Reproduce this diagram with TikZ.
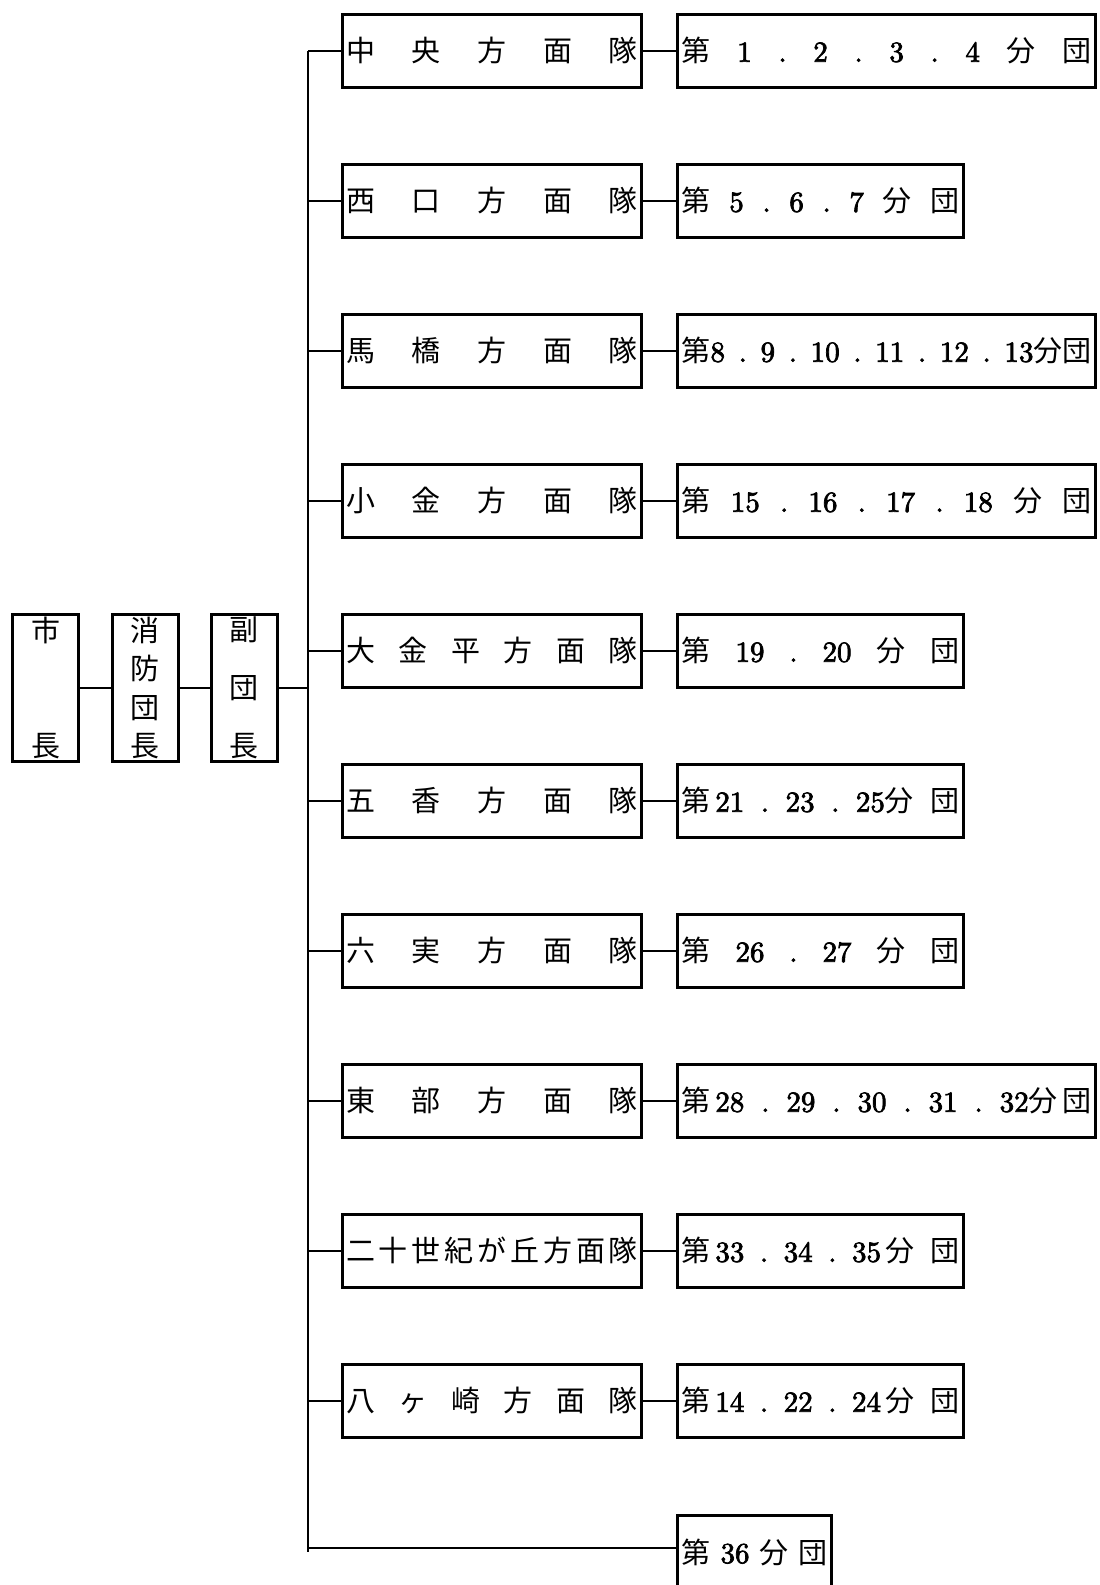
\documentclass[tikz,border=0pt]{standalone}
\usepackage{fontspec}
\newfontfamily\jpfont{Noto Sans CJK JP}
\newfontfamily\numfont{lmroman10-regular}[Extension=.otf, FakeBold=2.5]
\usetikzlibrary{positioning}
\newcommand{\jp}[1]{{\jpfont #1}}
\newcommand{\spreadline}[2]{\makebox[#1][s]{#2}}
\newcommand{\spreadcol}[1]{\parbox[c][70pt][s]{20pt}{\centering #1}}
\tikzstyle{chief} = [rectangle, minimum width=33pt, minimum height=73.5pt, inner sep=0pt, draw=black, line width=1.5pt, font=\jpfont\fontsize{14.5}{17}\selectfont]
\tikzstyle{branch} = [rectangle, minimum width=149.5pt, minimum height=36.5pt, inner sep=0pt, draw=black, line width=1.5pt, font=\jpfont\fontsize{14.5}{17}\selectfont]
\tikzstyle{unit} = [rectangle, minimum height=36.5pt, inner xsep=2pt, inner ysep=0pt, draw=black, line width=1.5pt, font=\numfont\fontsize{14.5}{17}\selectfont]
\tikzstyle{headlink} = [line width=1.3pt]
\tikzstyle{link} = [line width=0.8pt]

\begin{document}
\begin{tikzpicture}[x=0.5pt, y=0.5pt, node distance=75pt]
\useasboundingbox (0,0) rectangle (1099,-1585);

% left column
\node at (45.5,-688) (chief1) [chief] {\spreadcol{市\par\vfill 長}};
\node at (145,-688) (chief2) [chief] {\spreadcol{消\par\vfill 防\par\vfill 団\par\vfill 長}};
\node at (244,-688) (chief3) [chief] {\spreadcol{副\par\vfill 団\par\vfill 長}};
\draw[headlink] (chief1) -- (chief2);
\draw[headlink] (chief2) -- (chief3);

% branches
\node at (492,-50.7) (br1) [branch] {\spreadline{146pt}{中\hfill 央\hfill 方\hfill 面\hfill 隊}};
\node (br2) [branch, below of=br1] {\spreadline{146pt}{西\hfill 口\hfill 方\hfill 面\hfill 隊}};
\node (br3) [branch, below of=br2] {\spreadline{146pt}{馬\hfill 橋\hfill 方\hfill 面\hfill 隊}};
\node (br4) [branch, below of=br3] {\spreadline{146pt}{小\hfill 金\hfill 方\hfill 面\hfill 隊}};
\node (br5) [branch, below of=br4] {\spreadline{146pt}{大\hfill 金\hfill 平\hfill 方\hfill 面\hfill 隊}};
\node (br6) [branch, below of=br5] {\spreadline{146pt}{五\hfill 香\hfill 方\hfill 面\hfill 隊}};
\node (br7) [branch, below of=br6] {\spreadline{146pt}{六\hfill 実\hfill 方\hfill 面\hfill 隊}};
\node (br8) [branch, below of=br7] {\spreadline{146pt}{東\hfill 部\hfill 方\hfill 面\hfill 隊}};
\node (br9) [branch, below of=br8] {\spreadline{146pt}{二\hfill 十\hfill 世\hfill 紀\hfill が\hfill 丘\hfill 方\hfill 面\hfill 隊}};
\node (br10) [branch, below of=br9] {\spreadline{146pt}{八\hfill ヶ\hfill 崎\hfill 方\hfill 面\hfill 隊}};

% units
\node (un1) [unit, right=16.5pt of br1] {\spreadline{205pt}{\jp{第}\hfill 1\hfill .\hfill 2\hfill .\hfill 3\hfill .\hfill 4\hfill \jp{分}\hfill \jp{団}}};
\node (un2) [unit, right=16.5pt of br2] {\spreadline{139pt}{\jp{第}\hfill 5\hfill .\hfill 6\hfill .\hfill 7\hfill \jp{分}\hfill \jp{団}}};
\node (un3) [unit, right=16.5pt of br3] {\spreadline{205pt}{\jp{第}8\hfill .\hfill 9\hfill .\hfill 10\hfill .\hfill 11\hfill .\hfill 12\hfill .\hfill 13\jp{分団}}};
\node (un4) [unit, right=16.5pt of br4] {\spreadline{205pt}{\jp{第}\hfill 15\hfill .\hfill 16\hfill .\hfill 17\hfill .\hfill 18\hfill \jp{分}\hfill \jp{団}}};
\node (un5) [unit, right=16.5pt of br5] {\spreadline{139pt}{\jp{第}\hfill 19\hfill .\hfill 20\hfill \jp{分}\hfill \jp{団}}};
\node (un6) [unit, right=16.5pt of br6] {\spreadline{139pt}{\jp{第}\,21\hfill .\hfill 23\hfill .\hfill 25\jp{分}\hfill \jp{団}}};
\node (un7) [unit, right=16.5pt of br7] {\spreadline{139pt}{\jp{第}\hfill 26\hfill .\hfill 27\hfill \jp{分}\hfill \jp{団}}};
\node (un8) [unit, right=16.5pt of br8] {\spreadline{205pt}{\jp{第}\,28\hfill .\hfill 29\hfill .\hfill 30\hfill .\hfill 31\hfill .\hfill 32\jp{分}\,\jp{団}}};
\node (un9) [unit, right=16.5pt of br9] {\spreadline{139pt}{\jp{第}\,33\hfill .\hfill 34\hfill .\hfill 35\,\jp{分}\hfill \jp{団}}};
\node (un10) [unit, right=16.5pt of br10] {\spreadline{139pt}{\jp{第}\,14\hfill .\hfill 22\hfill .\hfill 24\,\jp{分}\hfill \jp{団}}};
\node at (676,-1552) (un11) [unit, anchor=west] {\spreadline{73pt}{\jp{第}\hfill 36\hfill \jp{分}\hfill \jp{団}}};

% trunk
\coordinate (top) at (308,-50.7);
\coordinate (tail) at (308,-1548);
\coordinate (foot) at (308,-1552);
\draw[link] (top) -- (foot);
\draw[headlink] (chief3) -- (chief3 -| top);
\draw[link] (br1.west -| top) -- (br1);
\draw[link] (br2.west -| top) -- (br2);
\draw[link] (br3.west -| top) -- (br3);
\draw[link] (br4.west -| top) -- (br4);
\draw[link] (br5.west -| top) -- (br5);
\draw[link] (br6.west -| top) -- (br6);
\draw[link] (br7.west -| top) -- (br7);
\draw[link] (br8.west -| top) -- (br8);
\draw[link] (br9.west -| top) -- (br9);
\draw[link] (br10.west -| top) -- (br10);
\draw[link] (tail) -- (tail -| un11.west);

\draw[link] (br1) -- (un1);
\draw[link] (br2) -- (un2);
\draw[link] (br3) -- (un3);
\draw[link] (br4) -- (un4);
\draw[link] (br5) -- (un5);
\draw[link] (br6) -- (un6);
\draw[link] (br7) -- (un7);
\draw[link] (br8) -- (un8);
\draw[link] (br9) -- (un9);
\draw[link] (br10) -- (un10);

\end{tikzpicture}
\end{document}
